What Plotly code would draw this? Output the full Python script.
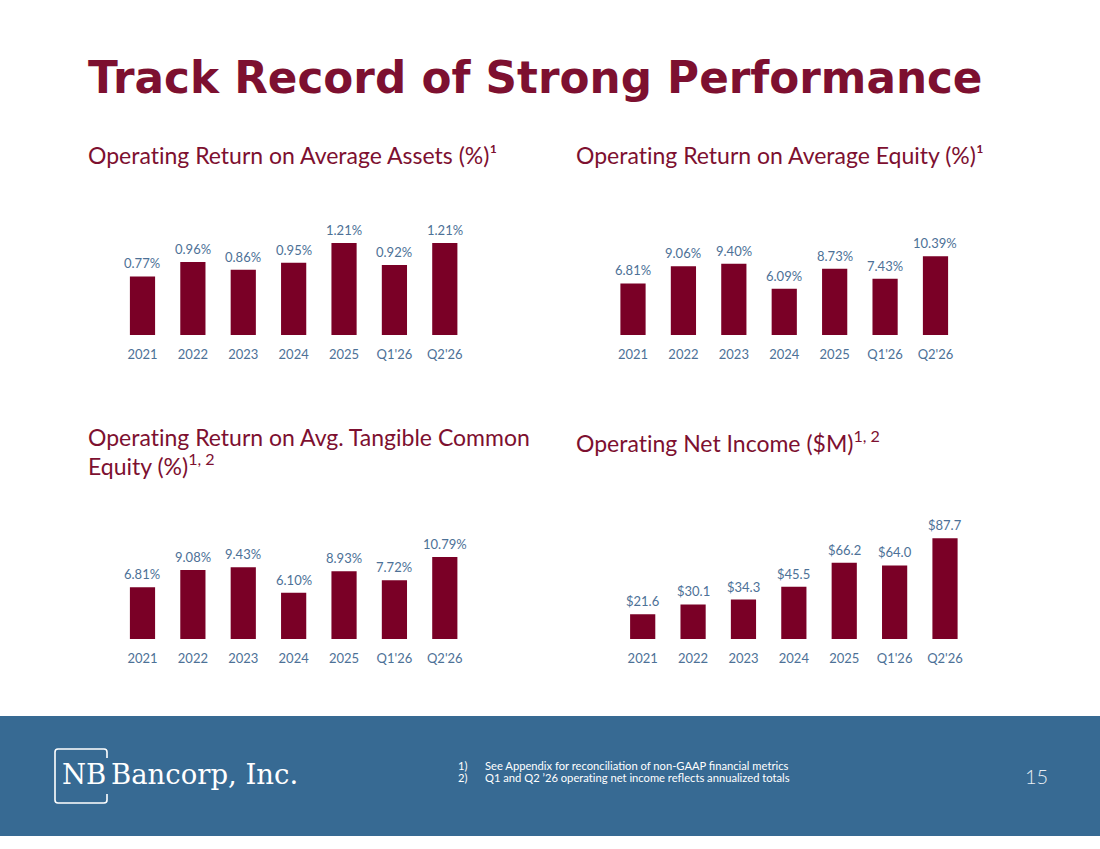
import plotly.graph_objects as go

categories = ["2021", "2022", "2023", "2024", "2025", "Q1'26", "Q2'26"]
roaa = [0.77, 0.96, 0.86, 0.95, 1.21, 0.92, 1.21]
roae = [6.81, 9.06, 9.40, 6.09, 8.73, 7.43, 10.39]
roatce = [6.81, 9.08, 9.43, 6.10, 8.93, 7.72, 10.79]
net_income = [21.6, 30.1, 34.3, 45.5, 66.2, 64.0, 87.7]

roaa_labels = [f"{v:.2f}%" for v in roaa]
roae_labels = [f"{v:.2f}%" for v in roae]
roatce_labels = [f"{v:.2f}%" for v in roatce]
ni_labels = [f"${v:.1f}" for v in net_income]

W, H = 1100, 849
BAR = "#7A0026"
TITLE = "#7D1030"
LABEL = "#4D7197"
FOOT = "#376A93"
FONT = "Lato"
ZW = "\u200c"  # breaks the "ti" ligature


def px_x(p):
    return p / W


def px_y(p):
    return 1 - p / H


fig = go.Figure()

panels = [
    # values, labels, x-domain px, baseline px, px per unit
    (roaa, roaa_labels, (117.3, 470.0), 335, 76.0),
    (roae, roae_labels, (607.8, 960.7), 335, 7.58),
    (roatce, roatce_labels, (117.3, 470.0), 639, 7.6),
    (net_income, ni_labels, (617.5, 970.2), 639, 1.15),
]

layout_axes = {}
annotations = []
for i, (vals, labs, (x0, x1), base, scale) in enumerate(panels, start=1):
    xa = "x" if i == 1 else f"x{i}"
    ya = "y" if i == 1 else f"y{i}"
    fig.add_trace(go.Bar(
        x=categories, y=vals,
        marker=dict(color=BAR, line=dict(width=0)),
        xaxis=xa, yaxis=ya, showlegend=False, hoverinfo="skip",
    ))
    for k, (v, t) in enumerate(zip(vals, labs)):
        annotations.append(dict(
            x=k, y=v, xref=xa, yref=ya, text=t, showarrow=False,
            xanchor="center", yanchor="bottom", yshift=3,
            font=dict(family=FONT, size=13, color=LABEL),
        ))
    top = base - 130
    layout_axes[f"xaxis{'' if i == 1 else i}"] = dict(
        type="category", categoryorder="array", categoryarray=categories,
        range=[-0.5, len(categories) - 0.5],
        domain=[px_x(x0), px_x(x1)], anchor=ya, showgrid=False, zeroline=False,
        showline=False, ticks="outside", ticklen=7, tickcolor="rgba(0,0,0,0)",
        tickfont=dict(family=FONT, size=13, color=LABEL), fixedrange=True,
    )
    layout_axes[f"yaxis{'' if i == 1 else i}"] = dict(
        domain=[px_y(base), px_y(top)], anchor=xa, range=[0, (base - top) / scale],
        visible=False, fixedrange=True,
    )

fig.update_layout(**layout_axes)

texts = [
    dict(text="Track Record of Strong Performance", x=px_x(86), y=px_y(78),
         font=dict(family="DejaVu Sans", size=43.7, color=TITLE, weight="bold")),
    dict(text=f"Operat{ZW}ing Return on Average Assets (%)¹", x=px_x(86), y=px_y(155),
         font=dict(family=FONT, size=23, color=TITLE)),
    dict(text=f"Operat{ZW}ing Return on Average Equity (%)¹", x=px_x(574), y=px_y(155),
         font=dict(family=FONT, size=23, color=TITLE)),
    dict(text=f"Operat{ZW}ing Return on Avg. Tangible Common", x=px_x(86), y=px_y(437),
         font=dict(family=FONT, size=23, color=TITLE)),
    dict(text="Equity (%)<sup>1, 2</sup>", x=px_x(86), y=px_y(464),
         font=dict(family=FONT, size=23, color=TITLE)),
    dict(text=f"Operat{ZW}ing Net Income ($M)<sup>1, 2</sup>", x=px_x(574), y=px_y(441),
         font=dict(family=FONT, size=23, color=TITLE)),
    dict(text="NB", x=px_x(60), y=px_y(774),
         font=dict(family="DejaVu Serif", size=27.5, color="white")),
    dict(text="Bancorp, Inc.", x=px_x(109), y=px_y(774),
         font=dict(family="DejaVu Serif", size=27.5, color="white")),
    dict(text="1)", x=px_x(456), y=px_y(765),
         font=dict(family=FONT, size=11.2, color="white")),
    dict(text="See Appendix for reconciliation of non-GAAP financial metrics",
         x=px_x(483), y=px_y(765), font=dict(family=FONT, size=11.2, color="white")),
    dict(text="2)", x=px_x(456), y=px_y(777),
         font=dict(family=FONT, size=11.2, color="white")),
    dict(text="Q1 and Q2 ’26 operat" + ZW + "ing net income reflects annualized totals",
         x=px_x(483), y=px_y(777), font=dict(family=FONT, size=11.2, color="white")),
    dict(text="15", x=px_x(1023), y=px_y(776),
         font=dict(family=FONT, size=20, color="#E8EEF4", weight=300)),
]
for a in texts:
    a.update(xref="paper", yref="paper", xanchor="left", yanchor="middle", showarrow=False)
annotations.extend(texts)
fig.update_layout(annotations=annotations)

# logo frame (open on the right side in the middle)
bx0, bx1, by0, by1, r = 55, 107, 749, 803, 3
pts = [
    ("M", bx1, 758), ("L", bx1, by0 + r), ("Q", bx1, by0, bx1 - r, by0),
    ("L", bx0 + r, by0), ("Q", bx0, by0, bx0, by0 + r),
    ("L", bx0, by1 - r), ("Q", bx0, by1, bx0 + r, by1),
    ("L", bx1 - r, by1), ("Q", bx1, by1, bx1, by1 - r), ("L", bx1, 794),
]
path = ""
for p in pts:
    cmd = p[0]
    coords = p[1:]
    s = " ".join(f"{px_x(coords[k]):.5f},{px_y(coords[k + 1]):.5f}" for k in range(0, len(coords), 2))
    path += f"{cmd} {s} "

fig.update_layout(
    shapes=[
        dict(type="rect", xref="paper", yref="paper", x0=0, x1=1,
             y0=px_y(836), y1=px_y(716), fillcolor=FOOT, line=dict(width=0), layer="below"),
        dict(type="path", xref="paper", yref="paper", path=path.strip(),
             line=dict(color="white", width=1.6)),
    ],
    width=W, height=H, margin=dict(l=0, r=0, t=0, b=0),
    paper_bgcolor="white", plot_bgcolor="rgba(0,0,0,0)",
    bargap=0.5, showlegend=False,
)

fig.write_html("out.html", config={"displayModeBar": False})
